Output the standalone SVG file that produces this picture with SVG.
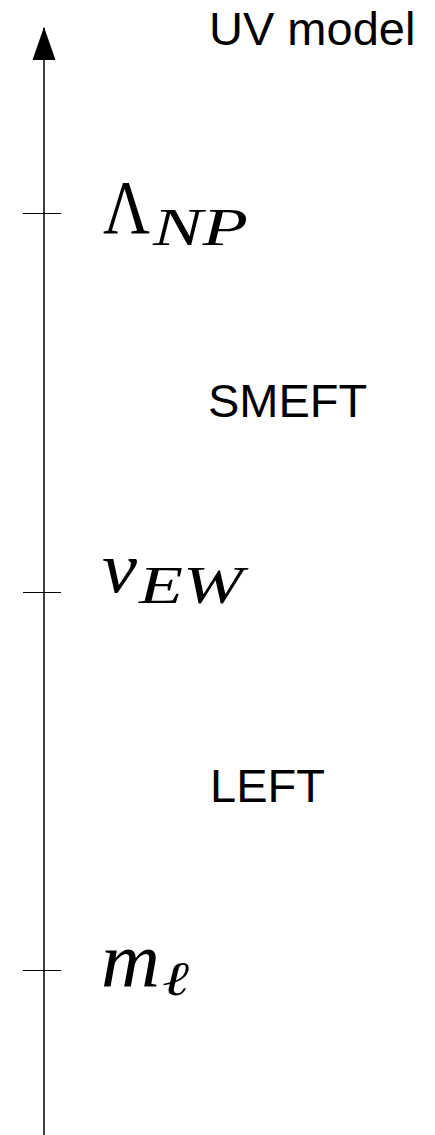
<svg xmlns="http://www.w3.org/2000/svg" width="435" height="1135" viewBox="0 0 435 1135">
<style>
.lbl{font-family:"Liberation Sans",Arial,sans-serif;font-size:47px;fill:#000}
.m{font-family:"Liberation Serif","Times New Roman",serif;font-style:italic;fill:#000}
.r{font-family:"Liberation Serif","Times New Roman",serif;fill:#000}
.tick{stroke:#000;stroke-width:1}
</style>
<g id="connectors">
<line x1="44" y1="1135" x2="44" y2="28" stroke="#000" stroke-width="1.5"/>
<path d="M32.5,60 L44,27 L55.5,60 Z" fill="#000"/>
</g>
<g id="ticks">
<line class="tick" x1="23" y1="213.5" x2="61" y2="213.5"/>
<line class="tick" x1="23" y1="592.5" x2="61" y2="592.5"/>
<line class="tick" x1="23" y1="970.5" x2="61" y2="970.5"/>
</g>
<g id="uv"><text class="lbl" x="209" y="45">UV model</text></g>
<g id="lambda">
<text class="r" x="103" y="233" font-size="77" textLength="47" lengthAdjust="spacingAndGlyphs">Λ</text>
<text class="m" x="153" y="245" font-size="53" textLength="95" lengthAdjust="spacingAndGlyphs">NP</text>
</g>
<g id="smeft"><text class="lbl" x="208" y="417">SMEFT</text></g>
<g id="vew">
<text class="m" x="102" y="592" font-size="72" textLength="35" lengthAdjust="spacingAndGlyphs">v</text>
<text class="m" x="139" y="603" font-size="53" textLength="104" lengthAdjust="spacingAndGlyphs">EW</text>
</g>
<g id="left"><text class="lbl" x="210" y="802">LEFT</text></g>
<g id="ml">
<text class="m" x="101" y="987" font-size="78" textLength="59" lengthAdjust="spacingAndGlyphs">m</text>
<text class="m" x="162" y="995" font-size="48" textLength="27" lengthAdjust="spacingAndGlyphs">ℓ</text>
</g>
</svg>
